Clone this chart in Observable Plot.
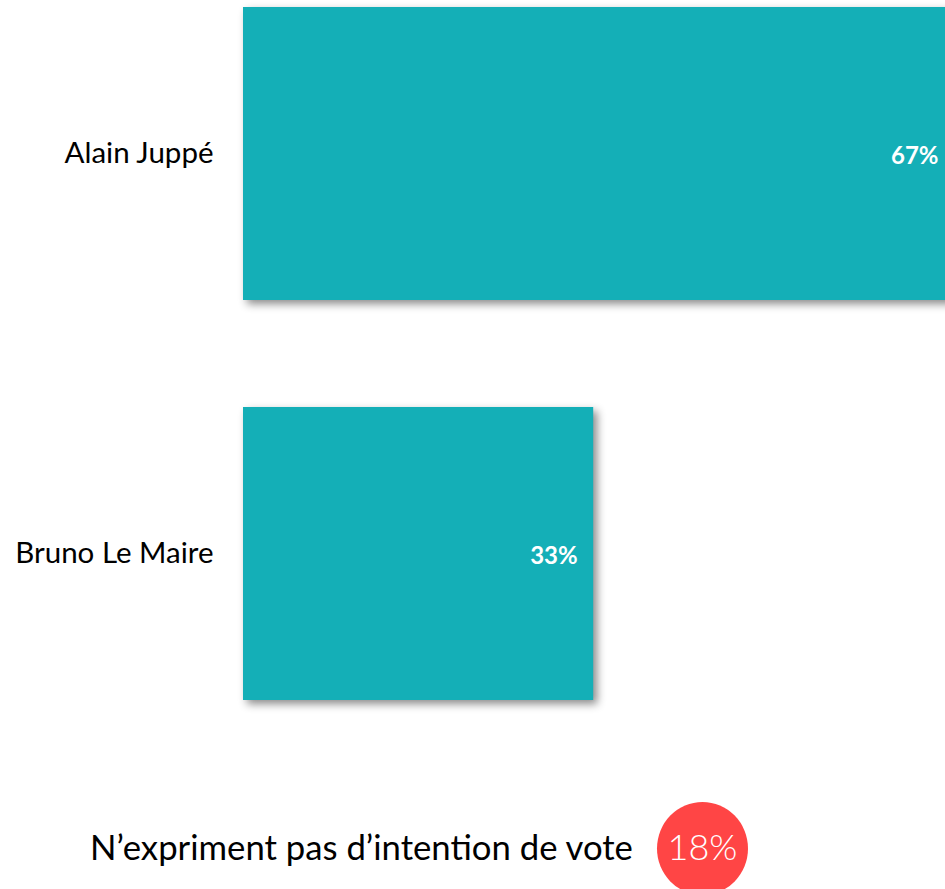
<!DOCTYPE html>
<html><head><meta charset="utf-8">
<script src="https://cdn.jsdelivr.net/npm/d3@7"></script>
<script src="https://cdn.jsdelivr.net/npm/@observablehq/plot@0.6"></script>
<style>
html,body{margin:0;padding:0;background:#fff;overflow:hidden;}
#wrap{width:945px;height:889px;overflow:hidden;position:relative;font-family:Lato,sans-serif;}
#chart{position:absolute;left:0;top:0;width:954px;}
#chart svg{max-width:none !important;}
.bars rect{filter:drop-shadow(4px 4px 4px rgba(0,0,0,0.45));}
#foot{position:absolute;left:0;top:707px;width:945px;height:182px;}
#footText{position:absolute;left:90px;top:120px;font-size:34.7px;line-height:40px;color:#000;white-space:nowrap;}
#bubble{position:absolute;left:657px;top:95px;width:91px;height:93px;border-radius:50%;background:#ff4545;}
#bubbleText{position:absolute;left:657px;top:119px;width:91px;text-align:center;color:#fff;font-weight:300;font-size:36px;line-height:40px;}
</style></head><body>
<div id="wrap"><div id="chart"></div><div id="foot"><div id="footText"></div><div id="bubble"></div><div id="bubbleText"></div></div></div>
<script>
const candidates = ["Alain Juppé", "Bruno Le Maire"];
const shares = [67, 33];
const noIntentionLabel = "N’expriment pas d’intention de vote";
const noIntention = 18;

const data = candidates.map((name, i) => ({name, share: shares[i]}));

const chart = Plot.plot({
  width: 954,
  height: 707,
  marginLeft: 243,
  marginRight: 0,
  marginTop: 0,
  marginBottom: 0,
  style: {fontFamily: "Lato, sans-serif", fontSize: "29.5px", color: "#000", background: "transparent", overflow: "visible", maxWidth: "none"},
  x: {domain: [0, 67], axis: null},
  y: {domain: candidates, paddingInner: 0.2675, paddingOuter: 0.0175, round: false, axis: null},
  marks: [
    Plot.barX(data, {x: "share", y: "name", fill: "#14afb7", className: "bars"}),
    Plot.text(data, {x: "share", y: "name", text: d => d.share + "%", textAnchor: "end", dx: -16, dy: 2, fill: "white", fontWeight: "bold", fontSize: 24}),
    Plot.axisY({tickSize: 0, tickPadding: 30, label: null, fontSize: 29.5})
  ]
});
document.getElementById("chart").appendChild(chart);
document.getElementById("footText").textContent = noIntentionLabel;
document.getElementById("bubbleText").textContent = noIntention + "%";
</script>
</body></html>
